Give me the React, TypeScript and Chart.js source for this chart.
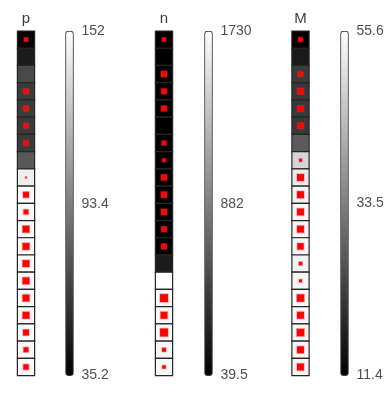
import React, { useEffect, useRef } from 'react';
import { Chart, registerables } from 'chart.js';

Chart.register(...registerables);

// ---- data ----
const rowCount = 20;

const pValues = [37.5, 47.5, 68, 62, 62, 62, 62, 75.5, 144, 152, 149, 150, 149, 150, 149, 150, 149, 150, 149, 150];
const pMarks = [4, 0, 0, 5, 5, 5, 5, 0, 1.5, 6, 5, 7, 7, 7, 7, 7, 7, 6, 5, 5.5];
const pTicks = [35.2, 93.4, 152];

const nValues = [39.5, 45, 42, 44, 41, 48, 43, 40, 46, 42, 44, 41, 47, 225, 1730, 1680, 1675, 1685, 1670, 1690];
const nMarks = [4, 0, 6, 5.5, 5.5, 0, 4.5, 3.5, 6, 6, 6, 5.5, 5.5, 0, 0, 8, 7, 8, 4, 3.5];
const nTicks = [39.5, 882, 1730];

const mValues = [11.8, 15.9, 21.8, 21.2, 21.2, 21.2, 27, 48.3, 52.1, 53.5, 54, 53.8, 54.2, 53.6, 54, 55.6, 54.2, 53.9, 54.3, 54];
const mMarks = [4.5, 0, 5, 6, 6, 6, 0, 3, 7, 7, 7, 7, 6.5, 3.5, 3, 7.5, 7, 7.5, 7, 7];
const mTicks = [11.4, 33.5, 55.6];

const titles = ['p', 'n', 'M'];

// ---- layout / style ----
const FONT = 'Liberation Sans, Arial, Helvetica, sans-serif';
const CANVAS_H = 396;

type PanelProps = {
  title: string;
  values: number[];
  marks: number[];
  ticks: number[];
  left: number;
  width: number;
  padLeft: number;
  axisWidth: number;
};

function Panel({ title, values, marks, ticks, left, width, padLeft, axisWidth }: PanelProps) {
  const ref = useRef<HTMLCanvasElement | null>(null);

  useEffect(() => {
    if (!ref.current) return;
    const lo = ticks[0];
    const hi = ticks[ticks.length - 1];
    const gray = (v: number) => {
      const t = Math.max(0, Math.min(1, (v - lo) / (hi - lo)));
      const c = Math.round(t * 255);
      return `rgb(${c},${c},${c})`;
    };
    const rowPx = (chart: any) => {
      const s = chart.scales.y;
      return Math.abs(s.getPixelForValue(1) - s.getPixelForValue(0));
    };
    const rows = values.map((_, i) => i + 0.5);

    const chart = new Chart(ref.current, {
      type: 'scatter',
      data: {
        datasets: [
          {
            type: 'scatter',
            label: 'marks',
            data: rows.map((r) => ({ x: 0, y: r })),
            yAxisID: 'y',
            pointStyle: 'rect',
            pointRadius: marks.map((m) => m / Math.SQRT2),
            backgroundColor: '#ff0000',
            borderColor: 'rgba(255,40,40,0.35)',
            borderWidth: 1.5,
            clip: false,
            order: 0,
          } as any,
          {
            type: 'scatter',
            label: 'cells',
            data: rows.map((r) => ({ x: 0, y: r })),
            yAxisID: 'y',
            pointStyle: 'rect',
            pointRadius: (ctx: any) => rowPx(ctx.chart) / Math.SQRT2,
            backgroundColor: values.map(gray),
            borderColor: '#262626',
            borderWidth: 1.2,
            clip: false,
            order: 1,
          } as any,
          {
            type: 'bar',
            label: 'colorbar',
            data: [{ x: 1, y: [lo, hi] }],
            yAxisID: 'yc',
            barThickness: 8,
            backgroundColor: (ctx: any) => {
              const c = ctx.chart;
              if (!c.chartArea) return '#888';
              const s = c.scales.yc;
              const g = c.ctx.createLinearGradient(0, s.getPixelForValue(hi), 0, s.getPixelForValue(lo));
              g.addColorStop(0, '#ffffff');
              g.addColorStop(1, '#000000');
              return g;
            },
            borderColor: '#3a3a3a',
            borderWidth: 1,
            borderSkipped: false,
            borderRadius: 3,
            clip: false,
            order: 2,
          } as any,
        ],
      },
      options: {
        animation: false,
        responsive: false,
        events: [],
        layout: { padding: { left: padLeft, top: 0, right: 0, bottom: 10.5 } },
        plugins: { legend: { display: false }, tooltip: { enabled: false } },
        scales: {
          x: {
            type: 'linear',
            position: 'top',
            offset: false,
            min: 0,
            max: 1,
            grid: { display: false, drawTicks: false, offset: false },
            border: { display: false },
            ticks: {
              autoSkip: false,
              padding: 3,
              color: '#3c3c3c',
              font: { family: FONT, size: 15 },
              callback: () => title,
            },
            afterBuildTicks: (s: any) => {
              s.ticks = [{ value: 0 }];
            },
            afterFit: (s: any) => {
              s.height = 31;
            },
          },
          y: {
            type: 'linear',
            display: false,
            reverse: true,
            min: 0,
            max: rowCount,
          },
          yc: {
            type: 'linear',
            position: 'right',
            min: lo,
            max: hi,
            grid: { display: false, drawTicks: false },
            border: { display: false },
            ticks: {
              autoSkip: false,
              padding: 12,
              color: '#505050',
              font: { family: FONT, size: 14 },
              callback: (v: any) => String(v),
            },
            afterBuildTicks: (s: any) => {
              s.ticks = ticks.map((v) => ({ value: v }));
            },
            afterFit: (s: any) => {
              s.width = axisWidth;
            },
          },
        },
      } as any,
    });
    return () => chart.destroy();
  }, []);

  return (
    <canvas
      ref={ref}
      width={width}
      height={CANVAS_H}
      style={{ position: 'absolute', left, top: 0, width, height: CANVAS_H }}
    />
  );
}

export default function App() {
  return (
    <div style={{ position: 'absolute', left: 0, top: 0, width: 388, height: 396, background: '#fff' }}>
      <Panel title={titles[0]} values={pValues} marks={pMarks} ticks={pTicks} left={0} width={134} padLeft={26} axisWidth={64.5} />
      <Panel title={titles[1]} values={nValues} marks={nMarks} ticks={nTicks} left={134} width={134} padLeft={30} axisWidth={59.5} />
      <Panel title={titles[2]} values={mValues} marks={mMarks} ticks={mTicks} left={268} width={120} padLeft={32.5} axisWidth={43.5} />
    </div>
  );
}
